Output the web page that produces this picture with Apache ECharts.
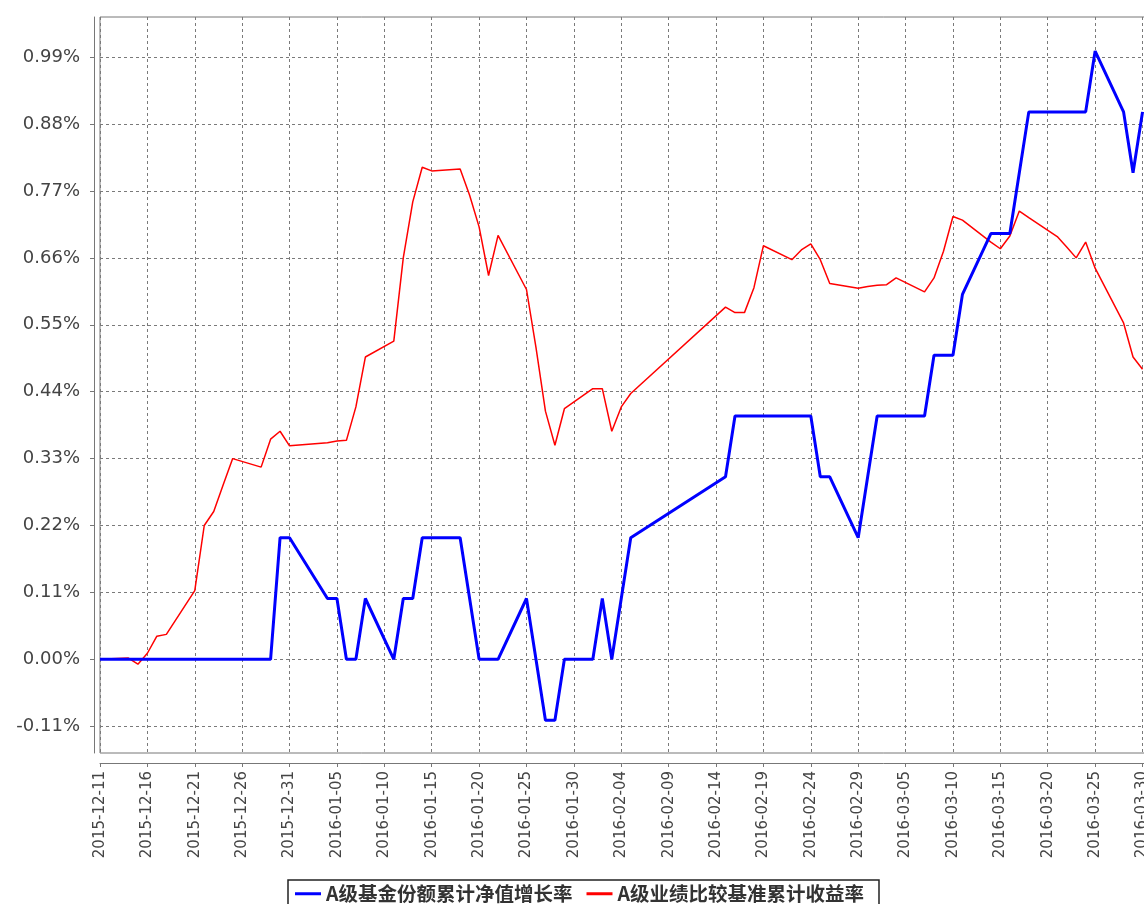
<!DOCTYPE html>
<html>
<head>
<meta charset="utf-8">
<script src="https://cdn.jsdelivr.net/npm/echarts@6/dist/echarts.min.js"></script>
<style>
html,body{margin:0;padding:0;background:#fff;}
#c{width:1144px;height:904px;}
</style>
</head>
<body>
<div id="c"></div>
<script>
const startDate = '2015-12-11';
const seriesNames = ['A级基金份额累计净值增长率', 'A级业绩比较基准累计收益率'];
const dates = [
  '2015-12-11','2015-12-14','2015-12-15','2015-12-16','2015-12-17','2015-12-18',
  '2015-12-21','2015-12-22','2015-12-23','2015-12-24','2015-12-25',
  '2015-12-28','2015-12-29','2015-12-30','2015-12-31',
  '2016-01-04','2016-01-05','2016-01-06','2016-01-07','2016-01-08',
  '2016-01-11','2016-01-12','2016-01-13','2016-01-14','2016-01-15',
  '2016-01-18','2016-01-19','2016-01-20','2016-01-21','2016-01-22',
  '2016-01-25','2016-01-26','2016-01-27','2016-01-28','2016-01-29',
  '2016-02-01','2016-02-02','2016-02-03','2016-02-04','2016-02-05',
  '2016-02-15','2016-02-16','2016-02-17','2016-02-18','2016-02-19',
  '2016-02-22','2016-02-23','2016-02-24','2016-02-25','2016-02-26',
  '2016-02-29','2016-03-01','2016-03-02','2016-03-03','2016-03-04',
  '2016-03-07','2016-03-08','2016-03-09','2016-03-10','2016-03-11',
  '2016-03-14','2016-03-15','2016-03-16','2016-03-17','2016-03-18',
  '2016-03-21','2016-03-22','2016-03-23','2016-03-24','2016-03-25',
  '2016-03-28','2016-03-29','2016-03-30'
];
const fundReturn = [
  0, 0, 0, 0, 0, 0,
  0, 0, 0, 0, 0,
  0, 0, 0.20, 0.20,
  0.10, 0.10, 0, 0, 0.10,
  0, 0.10, 0.10, 0.20, 0.20,
  0.20, 0.10, 0, 0, 0,
  0.10, 0, -0.10, -0.10, 0,
  0, 0.10, 0, 0.10, 0.20,
  0.30, 0.40, 0.40, 0.40, 0.40,
  0.40, 0.40, 0.40, 0.30, 0.30,
  0.20, 0.30, 0.40, 0.40, 0.40,
  0.40, 0.50, 0.50, 0.50, 0.60,
  0.70, 0.70, 0.70, 0.80, 0.90,
  0.90, 0.90, 0.90, 0.90, 1.00,
  0.90, 0.80, 0.90
];
const benchReturn = [
  0.000, 0.002, -0.008, 0.010, 0.038, 0.041,
  0.113, 0.220, 0.243, 0.287, 0.330,
  0.316, 0.362, 0.375, 0.351,
  0.356, 0.359, 0.360, 0.415, 0.497,
  0.523, 0.660, 0.752, 0.809, 0.803,
  0.806, 0.763, 0.711, 0.631, 0.697,
  0.608, 0.513, 0.408, 0.352, 0.412,
  0.445, 0.445, 0.375, 0.415, 0.437,
  0.579, 0.570, 0.570, 0.611, 0.680,
  0.657, 0.673, 0.683, 0.657, 0.618,
  0.610, 0.613, 0.615, 0.616, 0.627,
  0.604, 0.627, 0.671, 0.728, 0.722,
  0.686, 0.675, 0.696, 0.737, 0.726,
  0.695, 0.678, 0.660, 0.686, 0.643,
  0.553, 0.497, 0.477
];
const yTicks = [-0.11, 0, 0.11, 0.22, 0.33, 0.44, 0.55, 0.66, 0.77, 0.88, 0.99];

function utc(s) {
  const p = s.split('-').map(Number);
  return Date.UTC(p[0], p[1] - 1, p[2]);
}
const t0 = utc(startDate);
function dayOffset(s) { return Math.round((utc(s) - t0) / 86400000); }
function fmtDay(v) {
  const d = new Date(t0 + v * 86400000);
  const mm = String(d.getUTCMonth() + 1).padStart(2, '0');
  const dd = String(d.getUTCDate()).padStart(2, '0');
  return d.getUTCFullYear() + '-' + mm + '-' + dd;
}

const gridLine = { show: true, lineStyle: { color: '#7a7a7a', type: [3, 3], width: 1 } };

const chart = echarts.init(document.getElementById('c'), null, { renderer: 'canvas' });
chart.setOption({
  animation: false,
  backgroundColor: '#ffffff',
  grid: {
    left: 100, top: 17, width: 1052, height: 736,
    outerBoundsMode: 'none', containLabel: false,
    show: true, borderColor: '#777', borderWidth: 1, backgroundColor: '#fff'
  },
  legend: {
    data: seriesNames,
    left: 288, top: 880,
    orient: 'horizontal',
    borderColor: '#222', borderWidth: 1.5,
    padding: [4, 15, 10, 7],
    itemGap: 14, itemWidth: 26, itemHeight: 3,
    icon: 'rect',
    textStyle: { fontFamily: 'Noto Sans CJK SC', fontWeight: 'bold', fontSize: 19.5, color: '#333' }
  },
  xAxis: {
    type: 'value',
    min: 0, max: 111, interval: 5,
    offset: 10,
    axisLine: { show: true, onZero: false, lineStyle: { color: '#777', width: 1 } },
    axisTick: { show: true, length: 4, lineStyle: { color: '#777' } },
    axisLabel: {
      rotate: 90, margin: 8, showMaxLabel: false,
      fontFamily: 'DejaVu Sans', fontSize: 15, color: '#444',
      formatter: fmtDay
    },
    splitLine: gridLine
  },
  yAxis: {
    type: 'value',
    min: -0.154, max: 1.056,
    offset: 6,
    axisLine: { show: true, onZero: false, lineStyle: { color: '#777', width: 1 } },
    axisTick: { show: true, length: 4, customValues: yTicks, lineStyle: { color: '#777' } },
    axisLabel: {
      customValues: yTicks, margin: 14,
      fontFamily: 'DejaVu Sans', fontSize: 18, color: '#444',
      formatter: v => v.toFixed(2) + '%'
    },
    splitLine: gridLine
  },
  series: [
    {
      name: seriesNames[0], type: 'line', symbol: 'none', z: 3,
      data: dates.map((d, i) => [dayOffset(d), fundReturn[i]]),
      lineStyle: { color: '#0000ff', width: 3 }, itemStyle: { color: '#0000ff' }
    },
    {
      name: seriesNames[1], type: 'line', symbol: 'none', z: 2,
      data: dates.map((d, i) => [dayOffset(d), benchReturn[i]]),
      lineStyle: { color: '#ff0000', width: 1.5 }, itemStyle: { color: '#ff0000' }
    }
  ]
});
</script>
</body>
</html>
